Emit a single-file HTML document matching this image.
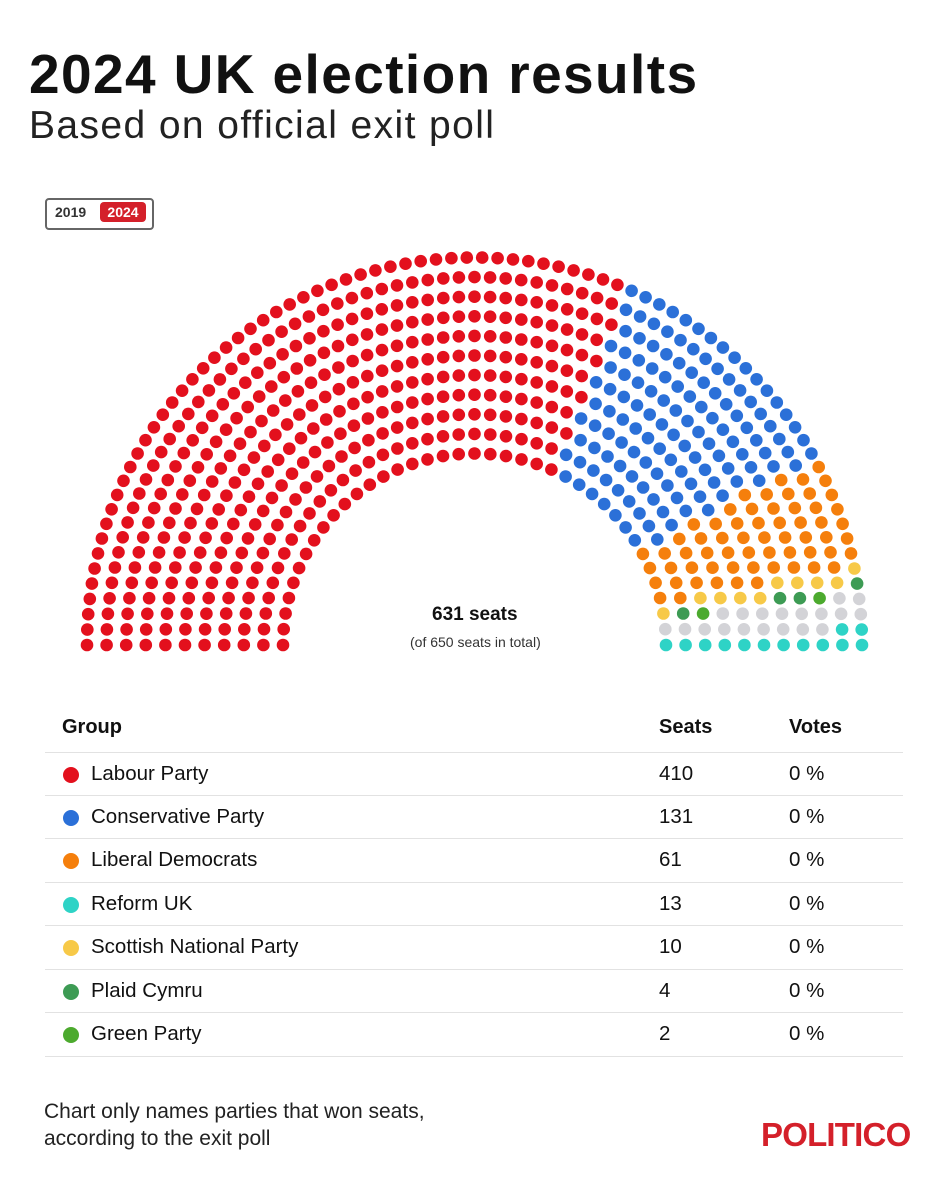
<!DOCTYPE html>
<html><head><meta charset="utf-8"><style>
body{margin:0;width:941px;height:1177px;background:#fff;font-family:"Liberation Sans",sans-serif;color:#111;position:relative;overflow:hidden}
.abs{position:absolute;white-space:nowrap}
.row{position:absolute;left:45px;width:858px;height:43px;border-top:1px solid #e2e2e2;font-size:20.5px}
.row span{position:absolute;top:9px}
.dot{position:absolute;left:18px;top:14px;width:16px;height:16px;border-radius:50%}
</style></head><body>
<div class="abs" style="left:29px;top:42px;font-size:55px;font-weight:bold;letter-spacing:1.4px">2024 UK election results</div>
<div class="abs" style="left:29px;top:104px;font-size:39px;color:#222;letter-spacing:1.4px">Based on official exit poll</div>
<div class="abs" style="left:45px;top:198px;width:105px;height:28px;border:2px solid #666;border-radius:4px;"></div>
<div class="abs" style="left:55px;top:204px;font-size:14px;font-weight:bold;color:#333">2019</div>
<div class="abs" style="left:100px;top:202px;width:46px;height:20px;background:#d4202a;border-radius:4px;color:#fff;font-size:14px;font-weight:bold;text-align:center;line-height:20px">2024</div>
<svg id="p" class="abs" style="left:0;top:0" width="941" height="670"></svg>
<div class="abs" style="left:432px;top:604px;font-size:19px;font-weight:bold">631 seats</div>
<div class="abs" style="left:410px;top:634px;font-size:14px;color:#333">(of 650 seats in total)</div>
<div class="abs" style="left:62px;top:716px;font-size:20px;font-weight:bold">Group</div>
<div class="abs" style="left:659px;top:716px;font-size:20px;font-weight:bold">Seats</div>
<div class="abs" style="left:789px;top:716px;font-size:20px;font-weight:bold">Votes</div>
<div class="row" style="top:752px"><i class="dot" style="background:#e3101d"></i><span style="left:46px">Labour Party</span><span style="left:614px">410</span><span style="left:744px">0 %</span></div>
<div class="row" style="top:795px"><i class="dot" style="background:#2b70d8"></i><span style="left:46px">Conservative Party</span><span style="left:614px">131</span><span style="left:744px">0 %</span></div>
<div class="row" style="top:838px"><i class="dot" style="background:#f57f0c"></i><span style="left:46px">Liberal Democrats</span><span style="left:614px">61</span><span style="left:744px">0 %</span></div>
<div class="row" style="top:882px"><i class="dot" style="background:#2ed3c6"></i><span style="left:46px">Reform UK</span><span style="left:614px">13</span><span style="left:744px">0 %</span></div>
<div class="row" style="top:925px"><i class="dot" style="background:#f7c948"></i><span style="left:46px">Scottish National Party</span><span style="left:614px">10</span><span style="left:744px">0 %</span></div>
<div class="row" style="top:969px"><i class="dot" style="background:#3d9b54"></i><span style="left:46px">Plaid Cymru</span><span style="left:614px">4</span><span style="left:744px">0 %</span></div>
<div class="row" style="top:1012px;border-bottom:1px solid #e2e2e2"><i class="dot" style="background:#4caa2e"></i><span style="left:46px">Green Party</span><span style="left:614px">2</span><span style="left:744px">0 %</span></div>
<div class="abs" style="left:44px;top:1098px;font-size:21px;line-height:27px;color:#222">Chart only names parties that won seats,<br>according to the exit poll</div>
<div class="abs" style="left:761px;top:1116px;font-size:33px;font-weight:bold;color:#d4202a;letter-spacing:-0.8px">POLITICO</div>
<script>
(function(){
var cx=474.5,cy=645,rO=387.5,rI=191.5,rows=11,total=650;
var radii=[],sum=0;for(var i=0;i<rows;i++){var r=rI+(rO-rI)*i/(rows-1);radii.push(r);sum+=r;}
var counts=radii.map(function(r){return Math.round(total*r/sum);});
var d=total-counts.reduce(function(a,b){return a+b},0);counts[rows-1]+=d;
var seats=[];
radii.forEach(function(r,i){var n=counts[i];for(var k=0;k<n;k++){var a=Math.PI-Math.PI*k/(n-1);seats.push({a:a,r:r});}});
seats.sort(function(p,q){return q.a-p.a||q.r-p.r;});
var parties=[["#e3101d",410],["#2b70d8",131],["#f57f0c",61],["#f7c948",10],["#3d9b54",4],["#4caa2e",2],["#d3d3d7",19],["#2ed3c6",13]];
var cols=[];parties.forEach(function(p){for(var j=0;j<p[1];j++)cols.push(p[0]);});
var s='';seats.forEach(function(p,i){s+='<circle cx="'+(cx+p.r*Math.cos(p.a)).toFixed(1)+'" cy="'+(cy-p.r*Math.sin(p.a)).toFixed(1)+'" r="6.3" fill="'+cols[i]+'"/>';});
document.getElementById('p').innerHTML=s;
})();
</script>
</body></html>
